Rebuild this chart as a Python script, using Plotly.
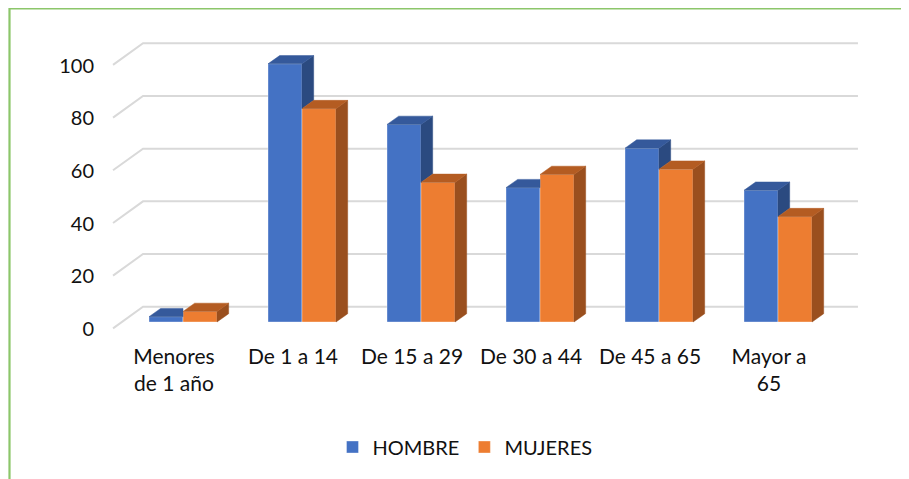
import plotly.graph_objects as go

# ---------------- data ----------------
categories = ["Menores<br>de 1 año", "De 1 a 14", "De 15 a 29", "De 30 a 44", "De 45 a 65", "Mayor a<br>65"]
hombre = [2, 98, 75, 51, 66, 50]
mujeres = [4, 81, 53, 56, 58, 40]
y_ticks = [0, 20, 40, 60, 80, 100]
series_names = ["HOMBRE", "MUJERES"]

# ---------------- style ----------------
C_H_FRONT, C_H_TOP, C_H_SIDE = "#4472C4", "#35599B", "#2B4A80"
C_M_FRONT, C_M_TOP, C_M_SIDE = "#ED7D31", "#B45C22", "#9A4F1E"
GRID = "#D9D9D9"
FONT = "Lato"
FS = 20

OFF = 8  # page body margin
W, H = 909, 479
L, R, T, B = 92, 47, 22, 149
plot_w = W - L - R
plot_h = H - T - B

x_range = [-0.6975, 5.7731]
y_range = [-6.07, 110.86]

BW = 0.2857           # bar width (x units)
DX, DY = 0.098, 3.15  # bar depth offset (data units)
BACK_DY = 5.81        # back wall offset (y units)
FRONT_DY = -2.4       # front edge offset (y units)
BACK_X0, BACK_X1, FRONT_X = -0.336, 5.672, -0.588

idx = list(range(len(categories)))

fig = go.Figure()

# bar fronts
edge = dict(width=0.6, color="rgba(255,255,255,0.6)")
fig.add_trace(go.Bar(x=idx, y=hombre, name=series_names[0], marker=dict(color=C_H_FRONT, line=edge), offsetgroup="h"))
fig.add_trace(go.Bar(x=idx, y=mujeres, name=series_names[1], marker=dict(color=C_M_FRONT, line=edge), offsetgroup="m"))

def poly_trace(xs, ys, color):
    return go.Scatter(x=xs, y=ys, mode="lines", fill="toself", fillcolor=color,
                      line=dict(width=0.5, color=color), hoverinfo="skip",
                      showlegend=False, connectgaps=False)

hs_x, hs_y, ht_x, ht_y, ms_x, ms_y, mt_x, mt_y = ([] for _ in range(8))
for i, (hh, hm) in enumerate(zip(hombre, mujeres)):
    hl, hr = i - BW, i
    ml, mr = i, i + BW
    # HOMBRE top
    if hh >= hm:
        px = [hl, hr, hr + DX, hl + DX, hl]
    else:
        px = [hl, hr, hr, hl + DX, hl]
    py = [hh, hh, hh + DY, hh + DY, hh]
    ht_x += px + [None]; ht_y += py + [None]
    # HOMBRE side (visible part above MUJERES)
    if hh > hm:
        hs_x += [hr, hr, hr + DX, hr + DX, hr, None]
        hs_y += [hm, hh, hh + DY, hm + DY, hm, None]
    # MUJERES side & top
    ms_x += [mr, mr, mr + DX, mr + DX, mr, None]
    ms_y += [0, hm, hm + DY, DY, 0, None]
    mt_x += [ml, mr, mr + DX, ml + DX, ml, None]
    mt_y += [hm, hm, hm + DY, hm + DY, hm, None]

fig.add_trace(poly_trace(hs_x, hs_y, C_H_SIDE))
fig.add_trace(poly_trace(ht_x, ht_y, C_H_TOP))
fig.add_trace(poly_trace(ms_x, ms_y, C_M_SIDE))
fig.add_trace(poly_trace(mt_x, mt_y, C_M_TOP))

# gridlines (back wall + diagonal to front)
shapes = []
for v in y_ticks:
    shapes.append(dict(type="path", xref="x", yref="y", layer="below",
                       path=f"M{FRONT_X},{v + FRONT_DY} L{BACK_X0},{v + BACK_DY} L{BACK_X1},{v + BACK_DY}",
                       line=dict(color=GRID, width=2)))

# window pixel -> paper
def px2paper_x(px):
    return (px - OFF - L) / plot_w
def py2paper_y(py):
    return (T + plot_h - (py - OFF)) / plot_h

# green border (left + top)
shapes.append(dict(type="path", xref="paper", yref="paper", layer="above",
                   path=f"M{px2paper_x(9.5)},{py2paper_y(490)} L{px2paper_x(9.5)},{py2paper_y(8.5)} L{px2paper_x(930)},{py2paper_y(8.5)}",
                   line=dict(color="#8CC66A", width=2.2)))

fig.update_layout(
    width=W, height=H,
    margin=dict(l=L, r=R, t=T, b=B),
    paper_bgcolor="white", plot_bgcolor="white",
    barmode="group", bargap=0.4286, bargroupgap=0,
    font=dict(family=FONT, size=FS, color="#111111"),
    shapes=shapes,
    showlegend=True,
    legend=dict(orientation="h", x=px2paper_x(465), xanchor="center",
                y=py2paper_y(447), yanchor="middle", font=dict(size=FS),
                traceorder="normal", itemclick=False),
)
fig.update_xaxes(range=x_range, tickvals=idx, ticktext=categories, showgrid=False,
                 zeroline=False, showline=False, ticks="", ticklabelshift=-9,
                 ticklabelstandoff=4, tickfont=dict(size=21))
fig.update_yaxes(range=y_range, tickvals=y_ticks, showgrid=False, zeroline=False,
                 showline=False, ticks="", ticklabelshift=7, ticklabelstandoff=5,
                 tickfont=dict(size=FS))

fig.write_html("out.html")
